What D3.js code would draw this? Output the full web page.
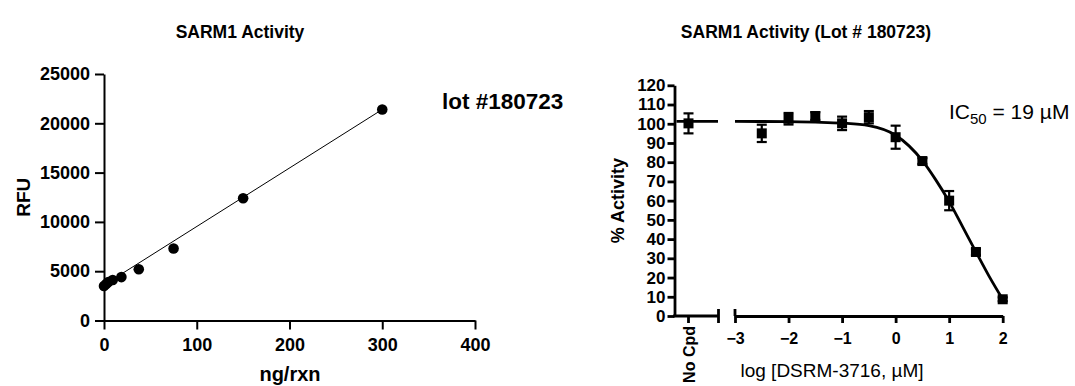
<!DOCTYPE html>
<html>
<head>
<meta charset="utf-8">
<script src="https://cdn.jsdelivr.net/npm/d3@7"></script>
<style>
  body { margin: 0; background: #fff; }
  svg { font-family: Arial, "Liberation Sans", sans-serif; }
</style>
</head>
<body>
<div id="chart"></div>
<script>
// left panel: enzyme titration
const amount = [0, 2.34, 4.69, 9.375, 18.75, 37.5, 75, 150, 300];
const rfu = [3500, 3700, 3900, 4100, 4400, 5200, 7300, 12400, 21400];
const fitLine = [[0, 3600], [300, 21400]];
const rfuTicks = [0, 5000, 10000, 15000, 20000, 25000];
const amountTicks = [0, 100, 200, 300, 400];

// right panel: dose response
const logConc = [-2.5, -2, -1.5, -1, -0.5, 0, 0.5, 1, 1.5, 2];
const activity = [95, 102.6, 104, 100.2, 103.4, 93, 80.6, 60, 33.3, 8.7];
const activityErr = [4.5, 3, 2, 3.5, 3.2, 6, 1.5, 5, 1.5, 1];
const noCpd = { value: 100.2, err: 5.2 };
const curveX = [-3, -2, -1.5, -1, -0.5, 0, 0.25, 0.5, 0.75, 1, 1.25, 1.5, 1.75, 2];
const curveY = [101.2, 101.1, 100.8, 100.3, 99, 94, 88.5, 80.8, 70.8, 59.5, 46.5, 33.4, 20.5, 8.7];
const activityTicks = d3.range(0, 121, 10);
const logTicks = [-3, -2, -1, 0, 1, 2];

const width = 1075;
const height = 386;
const svg = d3.select("#chart")
  .append("svg")
  .attr("width", width)
  .attr("height", height);

function styleAxis(g, size, sw) {
  g.attr("font-size", size).attr("font-weight", "bold").attr("font-family", null);
  g.selectAll("text").attr("fill", "#000");
  g.selectAll("line, path").attr("stroke", "#000").attr("stroke-width", sw);
}

// ---------- left chart ----------
const x1 = d3.scaleLinear().domain([0, 400]).range([104, 475]);
const y1 = d3.scaleLinear().domain([0, 25000]).range([320.5, 74]);

const gl = svg.append("g");

gl.append("g")
    .attr("transform", `translate(0,${y1(0)})`)
    .call(d3.axisBottom(x1).tickValues(amountTicks).tickFormat(d3.format("d"))
      .tickSize(9).tickPadding(9).tickSizeOuter(0))
    .call(g => styleAxis(g, 18, 2));

gl.append("g")
    .attr("transform", `translate(${x1(0)},0)`)
    .call(d3.axisLeft(y1).tickValues(rfuTicks).tickFormat(d3.format("d"))
      .tickSize(9).tickPadding(5).tickSizeOuter(0))
    .call(g => styleAxis(g, 18, 2));

gl.append("path")
    .datum(fitLine)
    .attr("fill", "none")
    .attr("stroke", "#000")
    .attr("stroke-width", 1)
    .attr("d", d3.line().x(d => x1(d[0])).y(d => y1(d[1])));

gl.selectAll("circle")
  .data(amount)
  .join("circle")
    .attr("cx", d => x1(d))
    .attr("cy", (d, i) => y1(rfu[i]))
    .attr("r", 5.3)
    .attr("fill", "#000");

gl.append("text")
    .attr("x", 240).attr("y", 38)
    .attr("text-anchor", "middle")
    .attr("font-weight", "bold").attr("font-size", 17.5)
    .text("SARM1 Activity");

gl.append("text")
    .attr("x", 442).attr("y", 109)
    .attr("font-weight", "bold").attr("font-size", 22.5)
    .text("lot #180723");

gl.append("text")
    .attr("transform", `translate(30,${y1(12500)}) rotate(-90)`)
    .attr("text-anchor", "middle")
    .attr("font-weight", "bold").attr("font-size", 19)
    .text("RFU");

gl.append("text")
    .attr("x", 290).attr("y", 381)
    .attr("text-anchor", "middle")
    .attr("font-weight", "bold").attr("font-size", 20)
    .text("ng/rxn");

// ---------- right chart ----------
const x2 = d3.scaleLinear().domain([-3, 2]).range([735, 1002.7]);
const xNo = 688.5;
const y2 = d3.scaleLinear().domain([0, 120]).range([316, 85.3]);

const gr = svg.append("g");

gr.append("g")
    .attr("transform", `translate(674.5,0)`)
    .call(d3.axisLeft(y2).tickValues(activityTicks).tickSize(7).tickPadding(2).tickSizeOuter(0))
    .call(g => styleAxis(g, 17, 2.8));

// first x segment (No Cpd)
gr.append("line")
    .attr("x1", 673.1).attr("x2", 718.5)
    .attr("y1", y2(0)).attr("y2", y2(0))
    .attr("stroke", "#000").attr("stroke-width", 2.8);
gr.append("line")
    .attr("x1", xNo).attr("x2", xNo)
    .attr("y1", y2(0)).attr("y2", y2(0) + 7)
    .attr("stroke", "#000").attr("stroke-width", 2.8);
gr.append("line")
    .attr("x1", 718.5).attr("x2", 718.5)
    .attr("y1", y2(0) - 7).attr("y2", y2(0) + 7)
    .attr("stroke", "#000").attr("stroke-width", 2.8);

// second x segment (log scale)
gr.append("g")
    .attr("transform", `translate(0,${y2(0)})`)
    .call(d3.axisBottom(x2).tickValues(logTicks).tickFormat(d3.format("d"))
      .tickSize(7).tickPadding(10).tickSizeOuter(0))
    .call(g => styleAxis(g, 16, 2.8));
gr.append("line")
    .attr("x1", x2(-3)).attr("x2", x2(-3))
    .attr("y1", y2(0) - 7).attr("y2", y2(0))
    .attr("stroke", "#000").attr("stroke-width", 2.8);

// fitted curve
gr.append("line")
    .attr("x1", 676.5).attr("x2", 718)
    .attr("y1", y2(curveY[0])).attr("y2", y2(curveY[0]))
    .attr("stroke", "#000").attr("stroke-width", 2.8);
gr.append("path")
    .datum(curveX.map((d, i) => [d, curveY[i]]))
    .attr("fill", "none")
    .attr("stroke", "#000")
    .attr("stroke-width", 2.8)
    .attr("d", d3.line().x(d => x2(d[0])).y(d => y2(d[1])).curve(d3.curveMonotoneX));

// error bars + squares
const points = logConc.map((d, i) => ({ x: x2(d), v: activity[i], e: activityErr[i] }));
points.unshift({ x: xNo, v: noCpd.value, e: noCpd.err });

const eb = gr.append("g").attr("stroke", "#000").attr("stroke-width", 2.2);
eb.selectAll(".stem")
  .data(points)
  .join("line")
    .attr("x1", d => d.x).attr("x2", d => d.x)
    .attr("y1", d => y2(d.v + d.e)).attr("y2", d => y2(d.v - d.e));
eb.selectAll(".cap")
  .data(points.flatMap(d => [{ x: d.x, y: d.v + d.e }, { x: d.x, y: d.v - d.e }]))
  .join("line")
    .attr("x1", d => d.x - 5).attr("x2", d => d.x + 5)
    .attr("y1", d => y2(d.y)).attr("y2", d => y2(d.y));

gr.selectAll("rect")
  .data(points)
  .join("rect")
    .attr("x", d => d.x - 5).attr("y", d => y2(d.v) - 5)
    .attr("width", 10).attr("height", 10)
    .attr("fill", "#000");

gr.append("text")
    .attr("x", 806).attr("y", 38)
    .attr("text-anchor", "middle")
    .attr("font-weight", "bold").attr("font-size", 17.5)
    .text("SARM1 Activity (Lot # 180723)");

const ic = gr.append("text")
    .attr("x", 949).attr("y", 119)
    .attr("font-size", 21);
ic.append("tspan").text("IC");
ic.append("tspan").attr("font-size", 15).attr("dy", 5).text("50");
ic.append("tspan").attr("dy", -5).text(" = 19 µM");

gr.append("text")
    .attr("transform", `translate(624,${y2(60)}) rotate(-90)`)
    .attr("text-anchor", "middle")
    .attr("font-weight", "bold").attr("font-size", 18)
    .text("% Activity");

gr.append("text")
    .attr("transform", `translate(${xNo + 6},326) rotate(-90)`)
    .attr("text-anchor", "end")
    .attr("font-weight", "bold").attr("font-size", 16)
    .text("No Cpd");

gr.append("text")
    .attr("x", 832).attr("y", 377)
    .attr("text-anchor", "middle")
    .attr("font-size", 19)
    .text("log [DSRM-3716, µM]");
</script>
</body>
</html>
